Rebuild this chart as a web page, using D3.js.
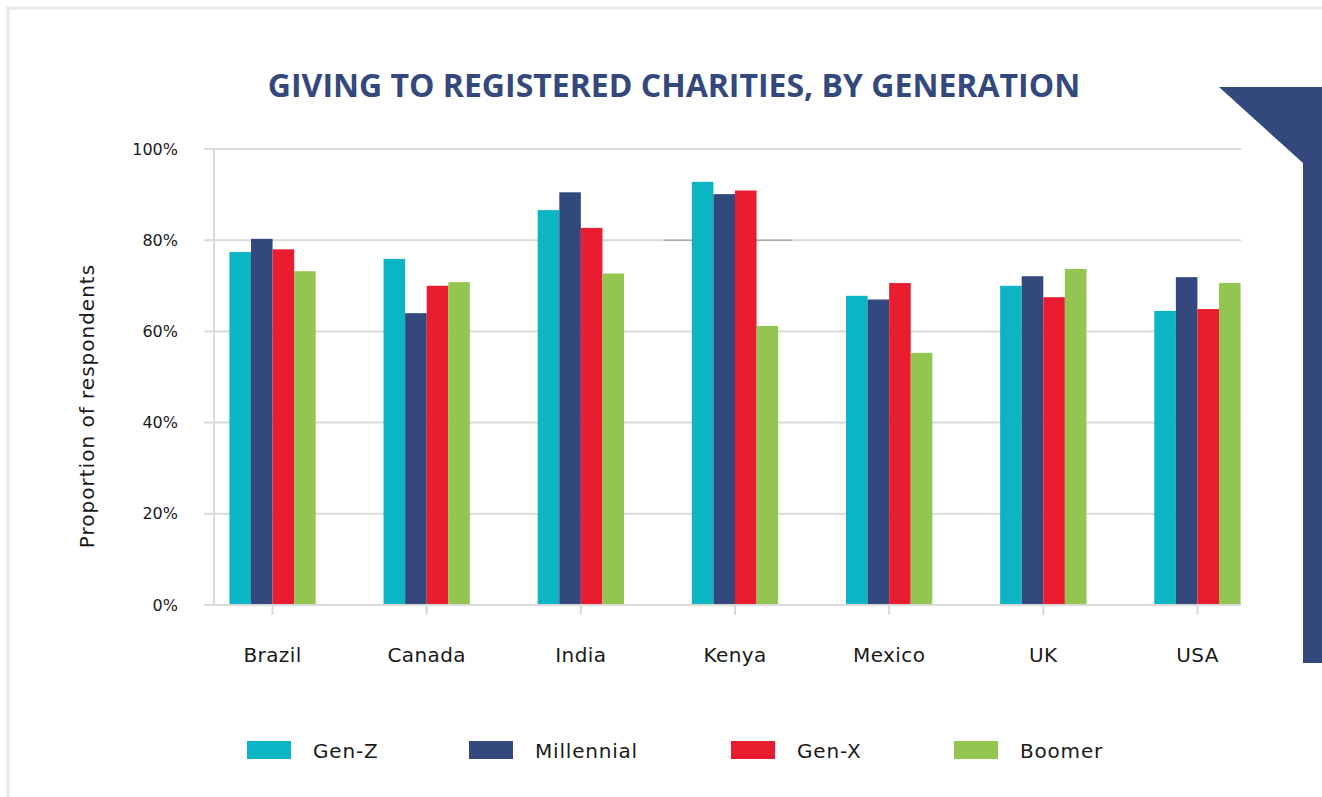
<!DOCTYPE html>
<html>
<head>
<meta charset="utf-8">
<script src="https://cdn.jsdelivr.net/npm/d3@7"></script>
<style>
  html, body { margin: 0; padding: 0; background: #fff; }
  svg { display: block; }
</style>
</head>
<body>
<svg id="chart" width="1322" height="797"></svg>
<script>
// Share of respondents giving to registered charities (%)
const countries = ["Brazil", "Canada", "India", "Kenya", "Mexico", "UK", "USA"];
const generations = ["Gen-Z", "Millennial", "Gen-X", "Boomer"];
const genZ       = [77.4, 75.9, 86.6, 92.8, 67.8, 70.0, 64.5];
const millennial = [80.3, 64.0, 90.5, 90.1, 67.0, 72.1, 71.9];
const genX       = [78.0, 70.0, 82.7, 90.9, 70.6, 67.5, 64.9];
const boomer     = [73.2, 70.8, 72.7, 61.2, 55.3, 73.7, 70.6];
const yTicks = [0, 20, 40, 60, 80, 100];
const colors = ["#0bb5c3", "#33497e", "#ea1c2f", "#93c650"];

const seriesValues = [genZ, millennial, genX, boomer];
const labelFont = "'DejaVu Sans', sans-serif";

const svg = d3.select("#chart");

// Frame
svg.append("path")
  .attr("d", "M8,797 L8,8 L1322,8")
  .attr("fill", "none")
  .attr("stroke", "#e6e8e8")
  .attr("stroke-width", 3);

// Corner ribbon on the right
svg.append("path")
  .attr("d", "M1219,87 L1322,87 L1322,663 L1303,663 L1303,163 Z")
  .attr("fill", "#33497e");

// Title
svg.append("text")
  .attr("x", 674).attr("y", 97)
  .attr("text-anchor", "middle")
  .attr("font-family", "'Open Sans', sans-serif")
  .attr("font-weight", 700)
  .attr("font-size", 32)
  .attr("fill", "#33497e")
  .text("GIVING TO REGISTERED CHARITIES, BY GENERATION");

const plotLeft = 214, plotRight = 1241, plotTop = 149, plotBottom = 605;

const x = d3.scaleBand()
  .domain(countries)
  .range([plotLeft, 1256])
  .paddingInner(0.44)
  .paddingOuter(0.1);

const x1 = d3.scaleBand()
  .domain(generations)
  .range([0, x.bandwidth()]);

const y = d3.scaleLinear().domain([0, 100]).range([plotBottom, plotTop]);

// Gridlines
svg.append("g")
  .selectAll("line")
  .data(yTicks)
  .join("line")
  .attr("x1", plotLeft - 10).attr("x2", plotRight)
  .attr("y1", d => y(d)).attr("y2", d => y(d))
  .attr("stroke", "#d9d9d9")
  .attr("stroke-width", 2);

// Darker stretch of the 80% line around the Kenya group
svg.append("line")
  .attr("x1", x("Kenya") - 28)
  .attr("x2", x("Kenya") + x.bandwidth() + 14)
  .attr("y1", y(80)).attr("y2", y(80))
  .attr("stroke", "#ababab")
  .attr("stroke-width", 1.5);

// Y axis labels
const yAxis = d3.axisLeft(y)
  .tickValues(yTicks)
  .tickFormat(d => d + "%")
  .tickSize(0)
  .tickPadding(36);
const gy = svg.append("g").attr("transform", `translate(${plotLeft},0)`).call(yAxis);
gy.select(".domain").remove();
gy.selectAll("text")
  .attr("font-family", labelFont)
  .attr("font-size", 16)
  .attr("fill", "#1a1a1a");

// Vertical axis line
svg.append("line")
  .attr("x1", plotLeft).attr("x2", plotLeft)
  .attr("y1", plotTop).attr("y2", plotBottom)
  .attr("stroke", "#d9d9d9").attr("stroke-width", 2);

// Bars
const groups = svg.append("g")
  .selectAll("g")
  .data(countries)
  .join("g")
  .attr("transform", d => `translate(${x(d)},0)`);

groups.selectAll("rect")
  .data((c, i) => generations.map((g, k) => ({ g, v: seriesValues[k][i], k })))
  .join("rect")
  .attr("x", d => x1(d.g))
  .attr("y", d => y(d.v))
  .attr("width", x1.bandwidth())
  .attr("height", d => plotBottom - y(d.v))
  .attr("fill", d => colors[d.k]);

// X axis
const xAxis = d3.axisBottom(x).tickSize(10).tickPadding(33);
const gx = svg.append("g").attr("transform", `translate(0,${plotBottom})`).call(xAxis);
gx.select(".domain").remove();
gx.selectAll(".tick line").attr("stroke", "#d9d9d9").attr("stroke-width", 2);
gx.selectAll("text")
  .attr("font-family", labelFont)
  .attr("font-size", 20)
  .attr("letter-spacing", 0.4)
  .attr("fill", "#1a1a1a");

svg.append("line")
  .attr("x1", plotLeft).attr("x2", plotRight)
  .attr("y1", plotBottom).attr("y2", plotBottom)
  .attr("stroke", "#d9d9d9").attr("stroke-width", 2);

// Y axis title
svg.append("text")
  .attr("transform", "translate(94,406) rotate(-90)")
  .attr("text-anchor", "middle")
  .attr("font-family", labelFont)
  .attr("font-size", 20)
  .attr("letter-spacing", 1.0)
  .attr("fill", "#1a1a1a")
  .text("Proportion of respondents");

// Legend
const legendX = [247, 469, 731, 954];
const legend = svg.append("g")
  .selectAll("g")
  .data(generations)
  .join("g")
  .attr("transform", (d, i) => `translate(${legendX[i]},741)`);
legend.append("rect")
  .attr("width", 44).attr("height", 18)
  .attr("fill", (d, i) => colors[i]);
legend.append("text")
  .attr("x", 66).attr("y", 17)
  .attr("font-family", labelFont)
  .attr("font-size", 20)
  .attr("letter-spacing", 0.8)
  .attr("fill", "#1a1a1a")
  .text(d => d);
</script>
</body>
</html>
